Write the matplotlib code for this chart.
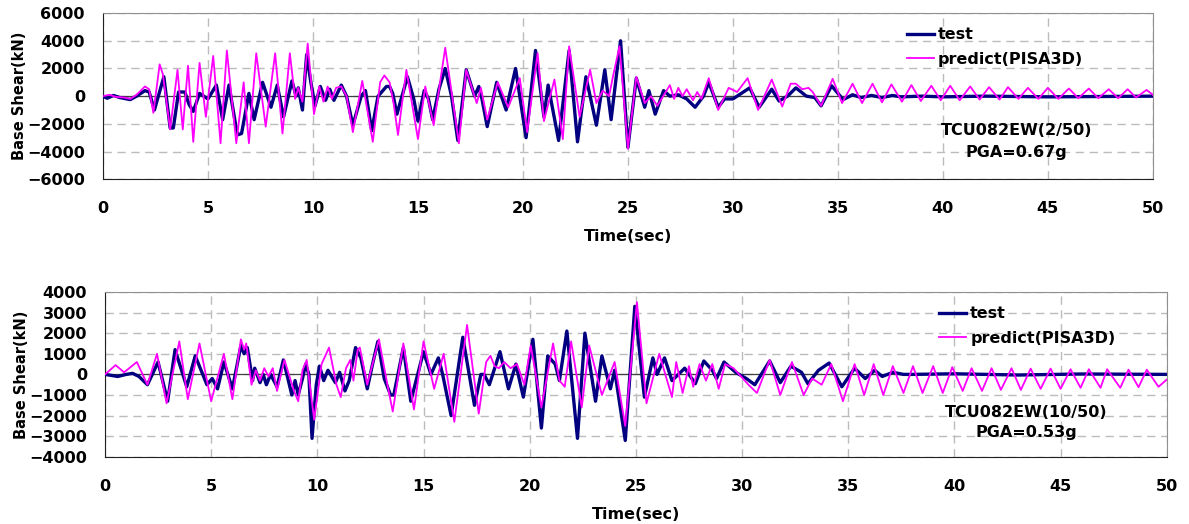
from matplotlib import pyplot as plt

# ---- top: TCU082EW(2/50) ----
topTestT = [0, 0.2, 0.5, 0.8, 1.3, 1.6, 2.0, 2.2, 2.45, 2.9, 3.2, 3.35, 3.6, 3.9, 4.1, 4.3, 4.6, 5.0,
            5.4, 5.7, 6.0, 6.4, 6.6, 6.95, 7.2, 7.6, 8.0, 8.3, 8.6, 9.0, 9.2, 9.3, 9.5, 9.7, 9.9,
            10.1, 10.35, 10.6, 10.8, 11.0, 11.35, 11.6, 11.9, 12.3, 12.5, 12.8, 13.1, 13.5, 13.65,
            13.8, 14.0, 14.5, 14.8, 15.0, 15.3, 15.5, 15.7, 16.0, 16.3, 16.6, 16.9, 17.3, 17.7,
            17.9, 18.05, 18.3, 18.75, 19.2, 19.65, 20.15, 20.6, 21.0, 21.2, 21.7, 22.2, 22.6, 23.0,
            23.5, 23.9, 24.2, 24.65, 25.0, 25.4, 25.8, 26.0, 26.3, 26.7, 27.0, 27.4, 27.8, 28.2,
            28.6, 28.85, 29.3, 29.6, 30.0, 30.4, 30.8, 31.25, 31.85, 32.2, 32.6, 33.0, 33.5, 33.9,
            34.2, 34.7, 35.25, 35.7, 36.1, 36.6, 37.1, 37.6, 38.0, 39.0, 40.0, 42.0, 45.0, 50.0]
topTestV = [0, -150, 50, -100, -250, 0, 400, 300, -1000, 1400, -2300, -2300, 300, 300, -600, -1100,
            200, -200, 800, -1700, 800, -2800, -2700, 200, -1700, 1000, -800, 800, -1500, 1100, 0,
            600, -1000, 3000, 1000, -700, 700, -300, 500, -300, 800, 0, -2100, 0, 400, -2500, 0,
            700, 700, 200, -1300, 1400, -200, -1800, 400, -200, -1700, 500, 2000, 0, -3200, 1900,
            0, 700, -200, -2200, 1000, -1000, 2000, -3000, 3300, -1500, 800, -3200, 3300, -3300,
            1400, -2100, 1900, -1700, 4000, -3700, 1300, -800, 400, -1300, 400, 0, 100, -200, -800,
            0, 1000, -800, -200, -200, 200, 600, -800, 500, -350, 0, 600, 0, -100, -700, 750, -250,
            100, -100, 50, -100, 50, -50, 0, -50, 0, -50, 0]

topPredT = [0, 0.3, 0.6, 1.0, 1.3, 1.6, 2.0, 2.2, 2.4, 2.7, 2.85, 3.2, 3.55, 3.8, 4.05, 4.3, 4.6, 4.9,
            5.25, 5.6, 5.9, 6.35, 6.7, 6.95, 7.3, 7.75, 8.2, 8.55, 8.9, 9.15, 9.3, 9.5, 9.75, 10.05,
            10.3, 10.5, 10.7, 10.9, 11.1, 11.35, 11.6, 11.9, 12.35, 12.85, 13.2, 13.4, 13.65, 13.85,
            14.05, 14.45, 15.0, 15.35, 15.75, 16.3, 16.95, 17.3, 17.8, 18.0, 18.3, 18.8, 19.3, 19.85,
            20.2, 20.7, 21.0, 21.5, 21.9, 22.2, 22.7, 23.2, 23.5, 23.8, 24.1, 24.3, 24.6, 25.0, 25.4,
            25.8, 26.1, 26.4, 27.0, 27.2, 27.4, 27.6, 27.8, 28.1, 28.3, 28.5, 28.85, 29.3, 29.8, 30.2,
            30.7, 31.2, 31.85, 32.35, 32.75, 33.0, 33.3, 33.6, 33.8, 34.2, 34.75, 35.2, 35.7, 36.15,
            36.65, 37.1, 37.55, 38.05, 38.5, 38.95, 39.45, 39.9, 40.35, 40.8, 41.3, 41.75, 42.2,
            42.7, 43.1, 43.6, 44.05, 44.55, 45.0, 45.5, 46.0, 46.45, 46.95, 47.4, 47.9, 48.35, 48.8,
            49.2, 49.7, 50.0]
topPredV = [0, 100, -50, -100, -200, 100, 700, 500, -1200, 2300, 1600, -2400, 1900, -2400, 2200,
            -3300, 2400, -1500, 2900, -3400, 3300, -3400, 1000, -3400, 3100, -2200, 3100, -2700,
            3100, -200, 600, -400, 3800, -1300, 700, -400, 700, -200, 600, 700, 0, -2600, 1100,
            -3300, 1000, 1500, 1000, -600, -2800, 1900, -3100, 700, -2100, 3500, -3400, 1900, -500,
            600, -1700, 1000, -800, 1300, -2600, 3100, -1800, 1200, -3100, 3600, -1500, 1900, -500,
            400, 0, 1500, 3600, -3800, 1400, -500, 0, -700, 800, -200, 600, 0, 500, -300, 300, -200,
            1300, -1000, 600, 300, 1300, -1000, 1200, -750, 900, 900, 500, 600, 300, -700, 1250,
            -500, 900, -500, 900, -450, 850, -400, 800, -350, 750, -300, 750, -300, 700, -250, 650,
            -250, 650, -200, 600, -200, 600, -200, 550, -150, 550, -150, 500, -150, 500, -100, 450,
            100]

# ---- bottom: TCU082EW(10/50) ----
botTestT = [0, 0.6, 1.0, 1.3, 1.6, 2.0, 2.5, 2.95, 3.3, 3.85, 4.25, 4.8, 5.05, 5.3, 5.6, 6.0, 6.4,
            6.55, 6.7, 6.95, 7.05, 7.3, 7.45, 7.6, 7.8, 8.1, 8.4, 8.8, 8.95, 9.1, 9.3, 9.45, 9.6,
            9.75, 9.95, 10.1, 10.3, 10.5, 10.85, 11.05, 11.3, 11.5, 11.8, 12.05, 12.35, 12.6, 12.85,
            13.15, 13.45, 13.6, 14.05, 14.4, 15.0, 15.35, 15.7, 15.9, 16.3, 16.85, 17.4, 17.7,
            17.85, 18.1, 18.6, 19.0, 19.35, 19.7, 20.15, 20.55, 20.85, 21.2, 21.4, 21.75, 22.25,
            22.6, 23.1, 23.4, 23.8, 24.0, 24.5, 24.95, 25.4, 25.8, 26.0, 26.35, 26.7, 27.0, 27.3,
            27.8, 28.2, 28.6, 28.8, 29.15, 29.7, 30.2, 30.6, 31.3, 31.8, 32.3, 32.8, 33.1, 33.6,
            34.1, 34.7, 35.3, 35.8, 36.25, 36.6, 37.1, 37.6, 38.0, 40.0, 43.0, 46.0, 50.0]
botTestV = [0, -100, 0, 50, -100, -500, 600, -1300, 1200, -600, 900, -500, -200, -700, 600, -700,
            1400, 1000, 1300, -300, 300, -400, 0, -500, 0, -600, 700, -1000, -300, -1000, -200, 500,
            0, -3100, -500, 400, -300, 200, -400, 100, -800, -300, 1300, 800, -700, 500, 1600, -200,
            -1000, -1000, 1300, -1300, 1100, 0, 800, 0, -2000, 1800, -1500, 0, 0, -500, 1100, -700,
            500, -1100, 1700, -2600, 900, 500, -300, 2100, -3100, 2000, -1300, 900, -700, 200,
            -3200, 3300, -1100, 800, 0, 800, -300, 0, 300, -450, 650, 200, -200, 600, 100, -200,
            -500, 650, -400, 400, 100, -450, 200, 550, -600, 300, -200, 200, -100, 100, 0, 0, 30,
            -30, 20, 0]

botPredT = [0, 0.5, 0.9, 1.5, 2.0, 2.45, 2.9, 3.5, 3.9, 4.45, 5.0, 5.6, 6.0, 6.4, 6.55, 6.65, 6.9,
            7.1, 7.3, 7.5, 7.7, 7.9, 8.1, 8.45, 8.9, 9.1, 9.3, 9.5, 9.85, 10.2, 10.55, 10.9, 11.1,
            11.35, 11.55, 11.7, 11.9, 12.0, 12.35, 12.9, 13.3, 13.55, 14.05, 14.55, 15.0, 15.5,
            15.95, 16.45, 17.05, 17.6, 17.95, 18.15, 18.35, 18.55, 18.8, 19.1, 19.4, 19.75, 20.05,
            20.55, 21.1, 21.4, 21.65, 21.95, 22.45, 22.8, 23.4, 24.0, 24.5, 25.05, 25.5, 26.1, 26.7,
            26.9, 27.2, 27.5, 27.7, 28.0, 28.3, 28.6, 28.9, 29.2, 29.6, 30.3, 30.7, 31.3, 31.8,
            32.35, 32.9, 33.3, 33.75, 34.2, 34.75, 35.3, 35.75, 36.2, 36.65, 37.1, 37.6, 38.05,
            38.5, 39.0, 39.45, 39.9, 40.39, 40.81, 41.3, 41.75, 42.19, 42.69, 43.13, 43.59, 44.06,
            44.53, 45.0, 45.47, 45.94, 46.33, 46.88, 47.19, 47.81, 48.2, 48.67, 49.06, 49.61, 50.0]
botPredV = [0, 450, 100, 600, -500, 1000, -1400, 1600, -1200, 1500, -1300, 1000, -1200, 1700,
            1200, 1500, -500, 200, -300, 300, -100, 300, -800, 700, -800, -1300, 200, 700, -2200,
            500, 1300, -500, -1100, 300, 700, -300, 1200, 1300, -500, 1700, -500, -1800, 1500,
            -1700, 1600, -700, 1000, -2300, 2400, -1900, 600, 900, 400, 300, 600, 300, 500, -500,
            1400, -1600, 1500, -300, -600, 1600, -1600, 1400, -1000, 600, -2500, 3500, -1400, 1000,
            -1100, 600, -900, 400, -600, 500, -300, 500, -700, 500, 300, -500, -900, 700, -1000,
            600, -1000, -200, -500, 500, -1300, 500, -1000, 500, -1000, 400, -900, 400, -900, 400,
            -900, 350, -800, 300, -800, 300, -750, 300, -750, 280, -700, 280, -700, 250, -650,
            250, -650, 250, -650, 230, -620, 230, -600, -250]

fontB = {"family": "DejaVu Sans", "weight": "bold", "size": 11.5}


def graphInit(ax, yTicks, yLim, xLabel):
    ax.set_xlim(0, 50)
    ax.set_ylim(yLim)
    ax.set_xticks(range(0, 51, 5))
    ax.set_yticks(yTicks)
    ax.grid(True, color="#bcbcbc", linestyle=(0, (6, 4)), linewidth=1.0)
    ax.set_axisbelow(True)
    ax.axhline(0, color="#404040", linewidth=0.9, zorder=1)
    for lab in ax.get_xticklabels() + ax.get_yticklabels():
        lab.set_fontproperties(fontB)
    ax.tick_params(axis="both", length=0)
    ax.tick_params(axis="x", pad=16)
    ax.tick_params(axis="y", pad=13)
    ax.set_xlabel(xLabel, fontdict=fontB, labelpad=9)
    ax.set_ylabel("Base Shear(kN)", fontdict={"family": "DejaVu Sans", "weight": "bold", "size": 10.5},
                  labelpad=0)
    ax.spines["left"].set_color("#202020")
    ax.spines["bottom"].set_color("#202020")
    ax.spines["top"].set_color("#909090")
    ax.spines["right"].set_color("#909090")


fig = plt.figure(figsize=(11.89, 5.24), dpi=100)
axTop = fig.add_axes([0.0866, 0.658, 0.883, 0.317])
axBot = fig.add_axes([0.0883, 0.128, 0.893, 0.315])

axTop.plot(topTestT, topTestV, color="#000080", linewidth=2.4, label="test", zorder=3)
axTop.plot(topPredT, topPredV, color="#ff00ff", linewidth=1.3, label="predict(PISA3D)", zorder=4)
axBot.plot(botTestT, botTestV, color="#000080", linewidth=2.4, label="test", zorder=3)
axBot.plot(botPredT, botPredV, color="#ff00ff", linewidth=1.3, label="predict(PISA3D)", zorder=4)

graphInit(axTop, range(-6000, 6001, 2000), (-6000, 6000), "Time(sec)")
graphInit(axBot, range(-4000, 4001, 1000), (-4000, 4000), "Time(sec)")

axTop.legend(loc="upper left", bbox_to_anchor=(0.752, 1.0), frameon=False,
             prop=fontB, handlelength=1.7, handletextpad=0.25, labelspacing=0.6)
axBot.legend(loc="upper left", bbox_to_anchor=(0.772, 1.0), frameon=False,
             prop=fontB, handlelength=1.7, handletextpad=0.25, labelspacing=0.6)

axTop.text(43.5, -2450, "TCU082EW(2/50)", ha="center", va="center", fontdict=fontB)
axTop.text(43.5, -4050, "PGA=0.67g", ha="center", va="center", fontdict=fontB)
axBot.text(43.4, -1870, "TCU082EW(10/50)", ha="center", va="center", fontdict=fontB)
axBot.text(43.4, -2840, "PGA=0.53g", ha="center", va="center", fontdict=fontB)

plt.savefig("out.png", dpi=100)
